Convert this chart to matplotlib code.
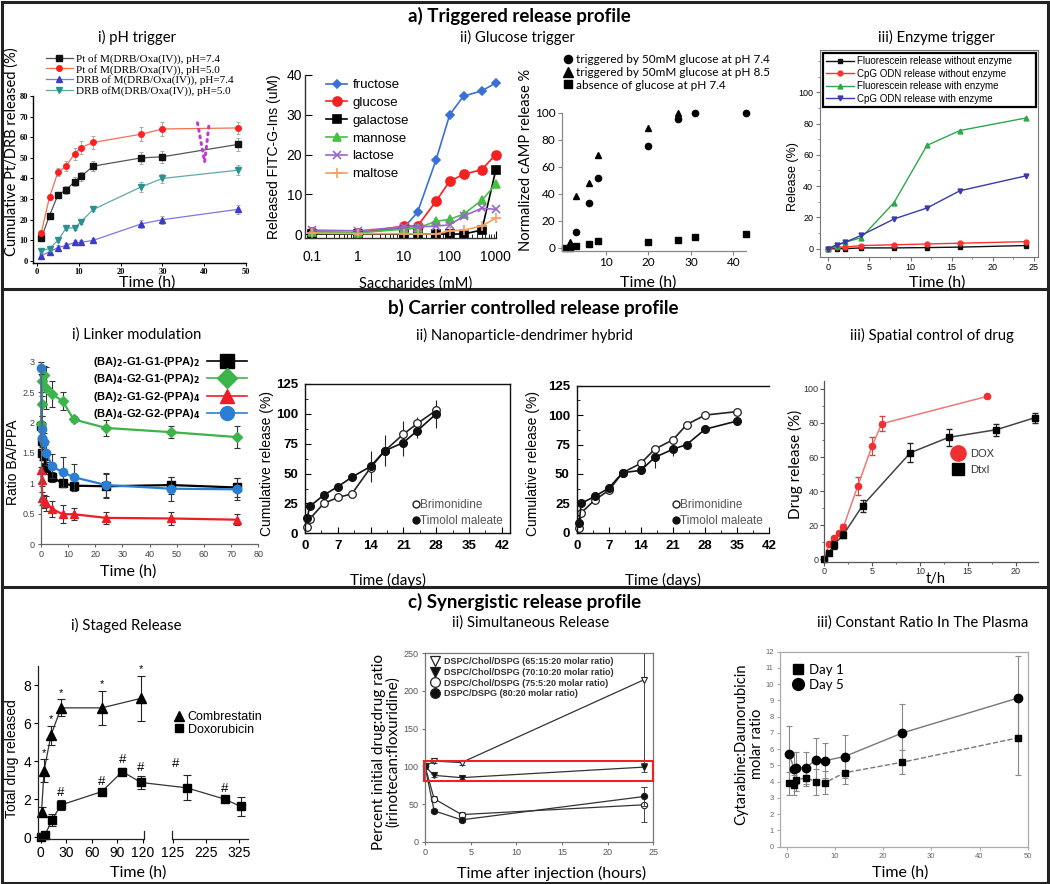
import matplotlib
matplotlib.use('Agg')
import matplotlib.pyplot as plt
import numpy as np
from matplotlib.lines import Line2D
from matplotlib.patches import Rectangle
from matplotlib.ticker import LogLocator, NullFormatter, MultipleLocator

# ======================= DATA =======================
# a-i) pH trigger
ph_time = [1, 3, 5, 7, 9, 10.5, 13.5, 25, 30, 48]
pt_ph74 = [11, 22, 32, 34.5, 38.5, 41, 46, 50, 50.5, 56.5]
pt_ph74_err = [1, 1, 1.5, 2, 2, 2, 2.5, 3, 3, 3]
pt_ph50 = [13.5, 31, 43, 46, 52, 55, 57.5, 61.5, 64, 64.5]
pt_ph50_err = [1, 1.5, 2, 2.5, 3, 3, 3, 3.5, 3.5, 3]
drb_ph74 = [2.5, 4.5, 6.5, 7.5, 9, 9, 10, 18, 20, 25]
drb_ph74_err = [1, 1, 1, 1, 1, 1, 1, 2, 2, 2]
drb_ph50 = [5, 6, 10, 16, 16, 19, 25, 36, 40, 44]
drb_ph50_err = [1, 1, 1, 1, 1, 1, 1, 2.5, 2, 2.5]
ph_labels = ['Pt of M(DRB/Oxa(IV)), pH=7.4', 'Pt of M(DRB/Oxa(IV)), pH=5.0',
             'DRB of M(DRB/Oxa(IV)), pH=7.4', 'DRB ofM(DRB/Oxa(IV)), pH=5.0']
pink_x = [38.4, 40.1, 41.2]
pink_y = [67, 48, 67]

# a-ii) Glucose trigger (FITC-G-Ins)
sacc_conc = [0.1, 1, 10, 20, 50, 100, 200, 500, 1000]
fructose = [0.5, 0.3, 1.5, 5.5, 18.5, 30, 34.7, 36, 38]
glucose = [0.5, 0.3, 2.0, 2.0, 8.2, 13.3, 15, 16.2, 20]
galactose = [0, 0, 0, 0, 0, 0, 0, 1, 16]
mannose = [0.5, 0.3, 1.2, 1.5, 3.2, 3.7, 5, 8.5, 12.5]
lactose = [1.0, 0.8, 1.8, 1.8, 2.0, 2.3, 4.5, 6.5, 6.2]
maltose = [0.2, 0.1, 0.1, 0, 0, 0.8, 1.0, 2.0, 4.0]
sacc_labels = ['fructose', 'glucose', 'galactose', 'mannose', 'lactose', 'maltose']

# a-ii) Glucose trigger (cAMP)
camp_t_74 = [3, 6, 8, 20, 27, 31, 43]
camp_74 = [12, 33, 52, 75, 95, 100, 100]
camp_t_85 = [1.4, 3, 6, 8, 20, 27]
camp_85 = [4, 38, 48, 69, 89, 100]
camp_t_0 = [0.3, 1.5, 3, 6, 8, 20, 27, 31, 43]
camp_0 = [0, 0, 1, 3, 5, 4, 6, 8, 10]
camp_labels = ['triggered by 50mM glucose at pH 7.4', 'triggered by 50mM glucose at pH 8.5',
               'absence of glucose at pH 7.4']

# a-iii) Enzyme trigger
enz_t = [0, 1, 2, 4, 8, 12, 16, 24]
fl_no_enz = [0, 0, 0, 0.5, 0.5, 0.7, 1, 2]
cpg_no_enz = [0, 1, 1, 2, 2.5, 3, 3.5, 4.5]
fl_enz = [0, 2, 4, 7, 29.5, 66, 75.5, 83.5]
cpg_enz = [0, 2.5, 4, 8.5, 19, 26, 37, 46.5]
enz_labels = ['Fluorescein release without enzyme', 'CpG ODN release without enzyme',
              'Fluorescein release with enzyme', 'CpG ODN release with enzyme']

# b-i) Linker modulation
lk_t = [0, 0.25, 0.5, 1, 2, 4, 8, 12, 24, 48, 72]
lk_g1g1 = [1.95, 1.70, 1.50, 1.45, 1.25, 1.10, 1.00, 0.96, 0.95, 0.97, 0.93]
lk_g1g1_err = [0.05, 0.10, 0.12, 0.12, 0.10, 0.08, 0.06, 0.05, 0.20, 0.14, 0.15]
lk_g2g1 = [1.97, 2.30, 2.68, 2.78, 2.57, 2.47, 2.35, 2.05, 1.91, 1.84, 1.76]
lk_g2g1_err = [0.05, 0.20, 0.25, 0.15, 0.35, 0.22, 0.15, 0.05, 0.13, 0.10, 0.18]
lk_g1g2 = [1.22, 1.05, 0.75, 0.70, 0.67, 0.58, 0.49, 0.49, 0.43, 0.42, 0.40]
lk_g1g2_err = [0.05, 0.10, 0.10, 0.10, 0.12, 0.13, 0.15, 0.10, 0.10, 0.10, 0.09]
lk_g2g2 = [2.90, 1.75, 1.90, 1.68, 1.50, 1.28, 1.18, 1.10, 0.97, 0.91, 0.90]
lk_g2g2_err = [0.10, 0.20, 0.20, 0.15, 0.20, 0.20, 0.25, 0.22, 0.20, 0.20, 0.18]
lk_labels = [r'(BA)$_\mathbf{2}$-G1-G1-(PPA)$_\mathbf{2}$', r'(BA)$_\mathbf{4}$-G2-G1-(PPA)$_\mathbf{2}$',
             r'(BA)$_\mathbf{2}$-G1-G2-(PPA)$_\mathbf{4}$', r'(BA)$_\mathbf{4}$-G2-G2-(PPA)$_\mathbf{4}$']

# b-ii) Nanoparticle-dendrimer hybrid
nd1_t = [0.5, 1, 4, 7, 10, 14, 17, 21, 24, 28]
nd1_brim = [5.5, 12, 25, 30, 33, 55, 69, 83, 92, 103]
nd1_brim_err = [1, 2, 2, 2, 2, 3, 3, 11, 5, 3]
nd1_tim = [13, 22.5, 32, 39, 47, 56, 69, 76, 86, 100]
nd1_tim_err = [1, 2, 2, 2, 3, 13, 13, 11, 6, 12]
nd2_t = [0.5, 1, 4, 7, 10, 14, 17, 21, 24, 28, 35]
nd2_brim = [4, 17, 28, 36, 51, 59, 71, 79, 92, 100, 103]
nd2_brim_err = [1, 2, 2, 2, 2, 2, 2, 3, 2, 2, 2]
nd2_tim = [8, 25, 31, 38, 51, 53, 64, 71, 75, 88, 95]
nd2_tim_err = [1, 2, 2, 2, 2, 2, 9, 6, 2, 2, 2]
nd_labels = ['Brimonidine', 'Timolol maleate']

# b-iii) Spatial control of drug
dox_t = [0, 0.5, 1, 1.5, 2, 3.5, 5, 6, 17]
dox_rel = [0, 9, 12.5, 15.5, 19, 43, 66.5, 79.5, 95.5]
dox_err = [0, 1, 1, 1, 1.5, 5, 5.5, 4.5, 1]
dtxl_t = [0, 0.5, 1, 2, 4, 9, 13, 18, 22]
dtxl_rel = [0, 4, 8.5, 14.5, 31.5, 62.5, 71.5, 76, 83]
dtxl_err = [0, 1, 2.5, 2, 3.5, 5.5, 5, 3.5, 3]

# c-i) Staged release
comb_t = [1, 4, 12, 24, 72, 118]
comb_rel = [1.35, 3.5, 5.35, 6.8, 6.8, 7.3]
comb_err = [0.25, 0.6, 0.5, 0.45, 0.9, 1.2]
doxo_t = [0, 5, 13, 24, 72, 96, 118, 167, 282, 329]
doxo_rel = [0, 0.1, 0.9, 1.7, 2.4, 3.45, 2.88, 2.6, 2.0, 1.62]
doxo_err = [0.05, 0.1, 0.3, 0.25, 0.1, 0.2, 0.35, 0.65, 0.15, 0.5]
staged_xticks = [0, 30, 60, 90, 120, 125, 225, 325]

# c-ii) Simultaneous release
sim_t = [0, 1, 4, 24]
sim_65 = [100, 107, 105, 215]
sim_65_err = [0, 2, 3, 110]
sim_70 = [100, 88, 85, 99]
sim_70_err = [0, 2, 2, 6]
sim_75 = [100, 57, 36, 49]
sim_75_err = [0, 3, 3, 23]
sim_80 = [100, 41, 29, 60]
sim_80_err = [0, 3, 3, 12]
sim_labels = ['DSPC/Chol/DSPG (65:15:20 molar ratio)', 'DSPC/Chol/DSPG (70:10:20 molar ratio)',
              'DSPC/Chol/DSPG (75:5:20 molar ratio)', 'DSPC/DSPG (80:20 molar ratio)']
box_y = [80, 107]

# c-iii) Constant ratio in the plasma
pl_t = [0.5, 1.5, 2, 4, 6, 8, 12, 24, 48]
day1 = [3.9, 3.8, 4.1, 4.25, 4.0, 3.95, 4.55, 5.2, 6.7]
day1_err = [0.7, 0.6, 0.7, 0.5, 0.8, 0.7, 0.7, 0.75, 2.3]
day5 = [5.7, 4.8, 4.85, 4.85, 5.35, 5.3, 5.55, 7.0, 9.15]
day5_err = [1.75, 1.05, 1.0, 1.0, 1.35, 1.1, 1.3, 1.8, 2.6]

# ======================= FIGURE =======================
W, H = 1050, 884
fig = plt.figure(figsize=(W / 100, H / 100), dpi=100)

MY = ['Lato', 'DejaVu Sans']
AR = ['Liberation Sans', 'DejaVu Sans']
TI = ['Liberation Serif', 'DejaVu Serif']


def add_ax(l, t, r, b):
    return fig.add_axes([l / W, 1 - b / H, (r - l) / W, (b - t) / H])


def fp(x, y):
    return (x / W, 1 - y / H)


def ftext(x, y, s, **kw):
    kw.setdefault('ha', 'center')
    kw.setdefault('va', 'center')
    fig.text(x / W, 1 - y / H, s, **kw)


def set_ticks(ax, xt, yt, xl=None, yl=None, family=AR, size=7, weight='normal', color='black'):
    kw = dict(fontfamily=family, fontsize=size, fontweight=weight, color=color)
    ax.set_xticks(xt, labels=xl if xl is not None else ['%g' % v for v in xt], **kw)
    ax.set_yticks(yt, labels=yl if yl is not None else ['%g' % v for v in yt], **kw)


def spines(ax, show=('left', 'bottom'), color='black', lw=1.0):
    for s in ['left', 'right', 'top', 'bottom']:
        ax.spines[s].set_visible(s in show)
        ax.spines[s].set_color(color)
        ax.spines[s].set_linewidth(lw)


# ---------------- Section titles ----------------
ftext(519, 16, 'a) Triggered release profile', family=MY, fontsize=13.5, fontweight='bold')
ftext(533, 308, 'b) Carrier controlled release profile', family=MY, fontsize=13.5, fontweight='bold')
ftext(525, 602, 'c) Synergistic release profile', family=MY, fontsize=13.5, fontweight='bold')

for (x, y, s) in [(137, 37, 'i) pH trigger'), (517, 37, 'ii) Glucose trigger'), (936, 37, 'iii) Enzyme trigger'),
                  (137, 335, 'i) Linker modulation'), (524, 335, 'ii) Nanoparticle-dendrimer hybrid'),
                  (932, 335, 'iii) Spatial control of drug'), (126, 625, 'i) Staged Release'),
                  (531, 623, 'ii) Simultaneous Release'), (923, 623, 'iii) Constant Ratio In The Plasma')]:
    ftext(x, y, s, family=MY, fontsize=10.7)

# ---------------- a-i pH trigger ----------------
ax = add_ax(32.8, 96, 246, 263)
ph_series = [pt_ph74, pt_ph50, drb_ph74, drb_ph50]
ph_errs = [pt_ph74_err, pt_ph50_err, drb_ph74_err, drb_ph50_err]
ph_style = [('#111111', '#555555', 's'), ('#ff2020', '#f07050', 'o'),
            ('#3c3cc8', '#7a7ae0', '^'), ('#2a9090', '#60a8a8', 'v')]
for y, e, lab, (mc, lc, m) in zip(ph_series, ph_errs, ph_labels, ph_style):
    ax.errorbar(ph_time, y, yerr=e, fmt='none', ecolor='#aaaaaa', elinewidth=0.7, capsize=1.5, capthick=0.7)
    ax.plot(ph_time, y, color=lc, lw=0.9, marker=m, ms=4, mfc=mc, mec=mc, label=lab)
ax.plot(pink_x, pink_y, color='#c03cc8', lw=2.2, ls=(0, (0.6, 1.6)), dash_capstyle='round')
ax.set_xlim(-1, 50)
ax.set_ylim(-1, 80)
set_ticks(ax, range(0, 51, 10), range(0, 81, 10), family=TI, size=6, weight='bold')
spines(ax)
ax.tick_params(length=2, width=0.7, pad=1.5)
ax.legend(loc='upper left', bbox_to_anchor=fp(46, 54), bbox_transform=fig.transFigure, frameon=False,
          prop={'family': TI, 'size': 8}, handlelength=2.4, handletextpad=0.3, labelspacing=0.05,
          borderpad=0, borderaxespad=0)
ftext(12, 152, 'Cumulative Pt/DRB released (%)', family=MY, fontsize=10.5, rotation=90)
ftext(147, 283, 'Time (h)', family=MY, fontsize=11.5)

# ---------------- a-ii FITC-G-Ins ----------------
ax = add_ax(305, 75, 495.7, 238)
sacc_series = [fructose, glucose, galactose, mannose, lactose, maltose]
sacc_style = [('#3a6fd8', 'D', 4.5), ('#f52020', 'o', 6.5), ('#000000', 's', 5.5),
              ('#45c045', '^', 6), ('#9966cc', 'x', 6), ('#f5a060', '+', 7)]
for y, lab, (c, m, ms) in zip(sacc_series, sacc_labels, sacc_style):
    ax.plot(sacc_conc, y, color=c, marker=m, ms=ms, lw=1.2, mew=1.2, label=lab, clip_on=False)
ax.set_xscale('log')
ax.set_xlim(0.0715, 1000)
ax.set_ylim(-1, 40)
set_ticks(ax, [0.1, 1, 10, 100, 1000], [0, 10, 20, 30, 40], family=AR, size=10)
ax.xaxis.set_minor_locator(LogLocator(base=10, subs=np.arange(2, 10)))
ax.xaxis.set_minor_formatter(NullFormatter())
spines(ax, color='#333333', lw=1.0)
ax.tick_params(axis='x', which='major', direction='in', length=5, pad=9)
ax.tick_params(axis='x', which='minor', direction='in', length=3)
ax.tick_params(axis='y', direction='in', length=5, pad=2)
ax.legend(loc='upper left', bbox_to_anchor=fp(326, 79), bbox_transform=fig.transFigure, frameon=False,
          prop={'family': AR, 'size': 9.5}, handlelength=1.6, handletextpad=0.4, labelspacing=0.42,
          borderpad=0, borderaxespad=0)
ftext(274, 157, 'Released FITC-G-Ins (uM)', family=AR, fontsize=10, rotation=90)
ftext(416, 284, 'Saccharides (mM)', family=MY, fontsize=10.5)

# ---------------- a-ii cAMP ----------------
ax = add_ax(561.7, 112.7, 746, 251)
ax.plot(camp_t_74, camp_74, 'o', color='black', ms=4.5, ls='none', clip_on=False, label=camp_labels[0])
ax.plot(camp_t_85, camp_85, '^', color='black', ms=5, ls='none', clip_on=False, label=camp_labels[1])
ax.plot(camp_t_0, camp_0, 's', color='black', ms=4.5, ls='none', clip_on=False, label=camp_labels[2])
ax.set_xlim(-0.45, 43)
ax.set_ylim(-2.4, 100)
set_ticks(ax, [10, 20, 30, 40], range(0, 101, 20), family=MY, size=8.5)
spines(ax, color='#888888', lw=0.9)
ax.tick_params(length=3, color='#888888', pad=1.5)
lg = ax.legend(loc='upper left', bbox_to_anchor=fp(563, 54), bbox_transform=fig.transFigure, frameon=False,
               prop={'family': MY, 'size': 8.5}, handlelength=0.8, handletextpad=0.3, labelspacing=0.15,
               borderpad=0, borderaxespad=0, markerscale=1.3)
ftext(526, 160, 'Normalized cAMP release %', family=MY, fontsize=10.5, rotation=90)
ftext(648, 283, 'Time (h)', family=MY, fontsize=11.5)

# ---------------- a-iii Enzyme trigger ----------------
ax = add_ax(820.1, 50, 1037.9, 256.5)
enz_series = [fl_no_enz, cpg_no_enz, fl_enz, cpg_enz]
enz_style = [('#111111', 's'), ('#ff3030', 'o'), ('#2ea84a', '^'), ('#3a3aa8', 'v')]
for y, lab, (c, m) in zip(enz_series, enz_labels, enz_style):
    ax.plot(enz_t, y, color=c, marker=m, ms=3.5, lw=1.0, label=lab)
ax.set_xlim(-1, 25.5)
ax.set_ylim(-5, 127)
set_ticks(ax, range(0, 26, 5), range(0, 101, 20), family=AR, size=6.5)
ax.yaxis.set_minor_locator(MultipleLocator(10))
ax.xaxis.set_minor_locator(MultipleLocator(2.5))
spines(ax, show=('left', 'bottom', 'right', 'top'), color='#777777', lw=0.8)
ax.tick_params(which='major', length=3, color='#777777', pad=2)
ax.tick_params(which='minor', length=1.5, color='#777777')
lg = ax.legend(loc='upper left', bbox_to_anchor=(823 / W, 1 - 53 / H, (1036 - 823) / W, 0),
               bbox_transform=fig.transFigure, mode='expand', fancybox=False, framealpha=1,
               edgecolor='black', prop={'family': AR, 'size': 7}, handlelength=2.8,
               handletextpad=0.3, labelspacing=0.25, borderpad=0.35, borderaxespad=0)
lg.get_frame().set_linewidth(1.6)
ftext(793, 177, 'Release (%)', family=AR, fontsize=9, rotation=90)
ftext(937, 283, 'Time (h)', family=MY, fontsize=11.5)

# ---------------- b-i Linker modulation ----------------
ax = add_ax(41, 361.7, 258.3, 544)
lk_series = [lk_g1g1, lk_g2g1, lk_g1g2, lk_g2g2]
lk_errs = [lk_g1g1_err, lk_g2g1_err, lk_g1g2_err, lk_g2g2_err]
lk_style = [('#000000', 's', 5.5), ('#3bb54a', 'D', 5), ('#ee1c24', '^', 5.5), ('#2a7fd4', 'o', 6)]
handles = []
for y, e, lab, (c, m, ms) in zip(lk_series, lk_errs, lk_labels, lk_style):
    ax.errorbar(lk_t, y, yerr=e, fmt='none', ecolor='#333333', elinewidth=0.8, capsize=2.5, capthick=0.8,
                clip_on=False)
    ax.plot(lk_t, y, color=c, marker=m, ms=ms, lw=1.6, clip_on=False)
    handles.append(Line2D([], [], color=c, marker=m, ms=10, lw=1.2, label=lab))
ax.set_xlim(0, 80)
ax.set_ylim(0, 3)
set_ticks(ax, range(0, 81, 10), [0, 0.5, 1, 1.5, 2, 2.5, 3], family=AR, size=6.5, color='#444444')
spines(ax, color='#666666', lw=0.9)
ax.tick_params(length=2.5, color='#666666', pad=2)
ax.legend(handles=handles, loc='upper right', bbox_to_anchor=fp(247, 355), bbox_transform=fig.transFigure,
          frameon=False, markerfirst=False, prop={'family': AR, 'size': 8, 'weight': 'bold'},
          handlelength=3.6, handletextpad=0.6, labelspacing=0.3, borderpad=0, borderaxespad=0)
ftext(13, 462, 'Ratio BA/PPA', family=AR, fontsize=10, rotation=90)
ftext(128, 572, 'Time (h)', family=MY, fontsize=11.5)


# ---------------- b-ii Nanoparticle-dendrimer hybrid ----------------
def nd_panel(box, xmax, t, brim, brim_err, tim, tim_err, right_spine=True):
    ax = add_ax(*box)
    ax.errorbar(t, tim, yerr=tim_err, fmt='none', ecolor='#222222', elinewidth=0.8, capsize=0)
    ax.errorbar(t, brim, yerr=brim_err, fmt='none', ecolor='#222222', elinewidth=0.8, capsize=0)
    ax.plot(t, brim, color='#222222', lw=1.2, marker='o', ms=5.5, mfc='white', mec='#222222', mew=0.9,
            clip_on=False, label=nd_labels[0])
    ax.plot(t, tim, color='#111111', lw=1.2, marker='o', ms=5.5, mfc='#111111', mec='#111111',
            clip_on=False, label=nd_labels[1])
    ax.set_xlim(0, xmax)
    ax.set_ylim(0, 125)
    set_ticks(ax, range(0, 43, 7), range(0, 126, 25), family=AR, size=9.5, weight='bold')
    ax.xaxis.set_minor_locator(MultipleLocator(3.5))
    ax.yaxis.set_minor_locator(MultipleLocator(12.5))
    show = ('left', 'bottom', 'top', 'right') if right_spine else ('left', 'bottom', 'top')
    spines(ax, show=show, color='#111111', lw=1.0)
    ax.tick_params(which='both', direction='in', pad=5)
    ax.tick_params(which='major', length=4)
    ax.tick_params(which='minor', length=2)
    hs = [Line2D([], [], ls='none', marker='o', ms=5, mfc='white', mec='#222222'),
          Line2D([], [], ls='none', marker='o', ms=5, mfc='#111111', mec='#111111')]
    lg = ax.legend(hs, nd_labels, loc='lower right', bbox_to_anchor=(0.965, 0.04), frameon=False,
                   prop={'family': AR, 'size': 8.5}, handlelength=0.5, handletextpad=0.1,
                   labelspacing=0.35, borderpad=0, borderaxespad=0)
    for tx in lg.get_texts():
        tx.set_color('#555555')
    return ax


nd_panel((305, 384, 510, 533.3), 43.75, nd1_t, nd1_brim, nd1_brim_err, nd1_tim, nd1_tim_err)
nd_panel((576.7, 385.7, 769.3, 532.7), 42, nd2_t, nd2_brim, nd2_brim_err, nd2_tim, nd2_tim_err,
         right_spine=False)
ftext(267, 463, 'Cumulative release (%)', family=AR, fontsize=10, rotation=90)
ftext(533, 463, 'Cumulative release (%)', family=AR, fontsize=10, rotation=90)
ftext(388, 580, 'Time (days)', family=MY, fontsize=11)
ftext(663, 580, 'Time (days)', family=MY, fontsize=11)

# ---------------- b-iii Spatial control ----------------
ax = add_ax(824.3, 381.1, 1037.5, 561.9)
ax.errorbar(dox_t, dox_rel, yerr=dox_err, fmt='none', ecolor='#e04040', elinewidth=0.8, capsize=2)
ax.plot(dox_t, dox_rel, color='#f07878', lw=1.1, marker='o', ms=4.5, mfc='#f03030', mec='#f03030',
        clip_on=False)
ax.errorbar(dtxl_t, dtxl_rel, yerr=dtxl_err, fmt='none', ecolor='#222222', elinewidth=0.8, capsize=2)
ax.plot(dtxl_t, dtxl_rel, color='#444444', lw=1.1, marker='s', ms=4.5, mfc='#000000', mec='#000000',
        clip_on=False)
ax.set_xlim(0, 22.3)
ax.set_ylim(-1.5, 104.5)
set_ticks(ax, [0, 5, 10, 15, 20], range(0, 101, 20), family=AR, size=6.5, color='#333333')
ax.xaxis.set_minor_locator(MultipleLocator(2.5))
ax.yaxis.set_minor_locator(MultipleLocator(10))
spines(ax, color='#555555', lw=0.9)
ax.tick_params(which='major', length=3, color='#555555', pad=1)
ax.tick_params(which='minor', length=1.5, color='#555555')
hs = [Line2D([], [], ls='none', marker='o', ms=11, color='#f03030'),
      Line2D([], [], ls='none', marker='s', ms=8, color='#000000')]
lg = ax.legend(hs, ['DOX', 'Dtxl'], loc='upper left', bbox_to_anchor=fp(952, 449),
               bbox_transform=fig.transFigure, frameon=False, prop={'family': AR, 'size': 8},
               handlelength=1.0, handletextpad=0.6, labelspacing=0.5, borderpad=0, borderaxespad=0)
for tx in lg.get_texts():
    tx.set_color('#333333')
ftext(795, 464, 'Drug release (%)', family=MY, fontsize=11, rotation=90)
ftext(936, 578.5, 't/h', family=MY, fontsize=10.5)

# ---------------- c-i Staged release (broken axis via function scale) ----------------
brk_t = [-50, 121.6, 122, 1000]
brk_p = [40.7 - 42.5, 144.0, 171.7, 171.7 + 878 / 3.0]


def brk_fwd(t):
    return np.interp(t, brk_t, brk_p)


def brk_inv(p):
    return np.interp(p, brk_p, brk_t)


ax = add_ax(float(brk_fwd(-3)), 666, float(brk_fwd(352)), 839.2)
ax.set_xscale('function', functions=(brk_fwd, brk_inv))
ax.errorbar(comb_t, comb_rel, yerr=comb_err, fmt='none', ecolor='#222222', elinewidth=0.8, capsize=3,
            capthick=0.8)
ax.plot(comb_t, comb_rel, color='#333333', lw=0.9, marker='^', ms=6.5, mfc='black', mec='black',
        clip_on=False)
ax.errorbar(doxo_t, doxo_rel, yerr=doxo_err, fmt='none', ecolor='#222222', elinewidth=0.8, capsize=3,
            capthick=0.8)
ax.plot(doxo_t, doxo_rel, color='#333333', lw=0.9, marker='s', ms=6, mfc='black', mec='black',
        clip_on=False)
for i in range(1, len(comb_t)):
    ax.annotate('*', (comb_t[i], comb_rel[i] + comb_err[i]), xytext=(0, 1), textcoords='offset points',
                ha='center', va='bottom', fontsize=8, family=AR)
for i, dx in [(3, 0), (4, 0), (5, 0), (6, 0), (7, -8), (8, 0)]:
    ax.annotate('#', (doxo_t[i], doxo_rel[i] + doxo_err[i]), xytext=(dx, 1 if dx == 0 else 4),
                textcoords='offset points', ha='center', va='bottom', fontsize=9.5, family=AR)
ax.set_xlim(-3, 352)
ax.set_ylim(-0.1, 9)
set_ticks(ax, staged_xticks, [0, 2, 4, 6, 8], family=AR, size=10)
spines(ax, color='#222222', lw=0.9)
ax.spines['bottom'].set_bounds(-3, 121.6)
ax.plot([122, 352], [0, 0], color='#222222', lw=0.9, transform=ax.get_xaxis_transform(), clip_on=False)
ax.plot([121.6, 121.6], [0, 0.045], color='#222222', lw=0.9, transform=ax.get_xaxis_transform(),
        clip_on=False)
ax.plot([122, 122], [0, 0.045], color='#222222', lw=0.9, transform=ax.get_xaxis_transform(),
        clip_on=False)
ax.tick_params(length=3, pad=2)
hs = [Line2D([], [], ls='none', marker='^', ms=7, color='black'),
      Line2D([], [], ls='none', marker='s', ms=6, color='black')]
fig.legend(hs, ['Combrestatin', 'Doxorubicin'], loc='upper left', bbox_to_anchor=fp(174, 711),
           frameon=False, prop={'family': AR, 'size': 9}, handlelength=0.8, handletextpad=0.3,
           labelspacing=0.05, borderpad=0, borderaxespad=0)
ftext(12, 759, 'Total drug released', family=AR, fontsize=10, rotation=90)
ftext(138, 873, 'Time (h)', family=MY, fontsize=11.5)

# ---------------- c-ii Simultaneous release ----------------
ax = add_ax(425, 653.3, 653.3, 841.7)
sim_series = [sim_65, sim_70, sim_75, sim_80]
sim_errs = [sim_65_err, sim_70_err, sim_75_err, sim_80_err]
sim_style = [('v', 'white'), ('v', '#111111'), ('o', 'white'), ('o', '#111111')]
hs = []
for y, e, lab, (m, fc) in zip(sim_series, sim_errs, sim_labels, sim_style):
    ax.errorbar(sim_t, y, yerr=e, fmt='none', ecolor='#444444', elinewidth=0.7, capsize=2, capthick=0.7)
    ax.plot(sim_t, y, color='#333333', lw=0.9, marker=m, ms=4.5, mfc=fc, mec='#222222', mew=0.8)
    hs.append(Line2D([], [], ls='none', marker=m, ms=7, mfc=fc, mec='#222222', mew=0.9))
ax.add_patch(Rectangle((-0.1, box_y[0]), 25.1, box_y[1] - box_y[0], fill=False, ec='#ee2222', lw=1.5,
                       clip_on=False, zorder=5))
ax.set_xlim(0, 25)
ax.set_ylim(0, 250)
set_ticks(ax, range(0, 26, 5), range(0, 251, 50), family=AR, size=6.5, color='#555555')
spines(ax, show=('left', 'bottom', 'top', 'right'), color='#777777', lw=0.9)
ax.tick_params(length=2.5, color='#777777', pad=2)
lg = ax.legend(hs, sim_labels, loc='upper left', bbox_to_anchor=fp(430, 657), bbox_transform=fig.transFigure,
               frameon=False, prop={'family': AR, 'size': 6.5, 'weight': 'bold'}, handlelength=1.0,
               handletextpad=0.6, labelspacing=0.2, borderpad=0, borderaxespad=0)
for tx in lg.get_texts():
    tx.set_color('#333333')
ftext(386, 752, 'Percent initial drug:drug ratio\n(irinotecan:floxuridine)', family=MY, fontsize=11,
      rotation=90, linespacing=1.05)
ftext(552, 873, 'Time after injection (hours)', family=MY, fontsize=11.5)

# ---------------- c-iii Constant ratio ----------------
ax = add_ax(780, 651.7, 1027.7, 846.7)
ax.errorbar(pl_t, day1, yerr=day1_err, fmt='none', ecolor='#888888', elinewidth=0.8, capsize=2.5,
            capthick=0.8)
ax.errorbar(pl_t, day5, yerr=day5_err, fmt='none', ecolor='#888888', elinewidth=0.8, capsize=2.5,
            capthick=0.8)
ax.plot(pl_t, day1, color='#777777', lw=1.0, ls='--', marker='s', ms=5, mfc='black', mec='black')
ax.plot(pl_t, day5, color='#777777', lw=1.0, ls='-', marker='o', ms=6, mfc='black', mec='black')
ax.set_xlim(-1.4, 50)
ax.set_ylim(0, 12)
set_ticks(ax, range(0, 51, 10), range(0, 13), family=AR, size=5.5, color='#666666')
spines(ax, show=('left', 'bottom', 'top', 'right'), color='#aaaaaa', lw=0.9)
ax.tick_params(length=2.5, color='#aaaaaa', pad=2)
hs = [Line2D([], [], ls='none', marker='s', ms=7.5, color='black'),
      Line2D([], [], ls='none', marker='o', ms=8.5, color='black')]
ax.legend(hs, ['Day 1', 'Day 5'], loc='upper left', bbox_to_anchor=fp(792, 664), bbox_transform=fig.transFigure,
          frameon=False, prop={'family': MY, 'size': 9.5}, handlelength=0.9, handletextpad=0.4,
          labelspacing=0.2, borderpad=0, borderaxespad=0)
ftext(749, 744, 'Cytarabine:Daunorubicin\nmolar ratio', family=MY, fontsize=10.5, rotation=90,
      linespacing=1.1)
ftext(900, 873, 'Time (h)', family=MY, fontsize=11.5)

# ---------------- frames ----------------
for (x0, y0, x1, y1) in [(2, 2, 1048, 2), (2, 883, 1048, 883), (2, 2, 2, 883), (1048, 2, 1048, 883),
                         (2, 289, 1048, 289), (2, 587, 1048, 587)]:
    fig.add_artist(Line2D([x0 / W, x1 / W], [1 - y0 / H, 1 - y1 / H], color='#222222', lw=2.2,
                          transform=fig.transFigure))

fig.savefig('out.png', dpi=100)
